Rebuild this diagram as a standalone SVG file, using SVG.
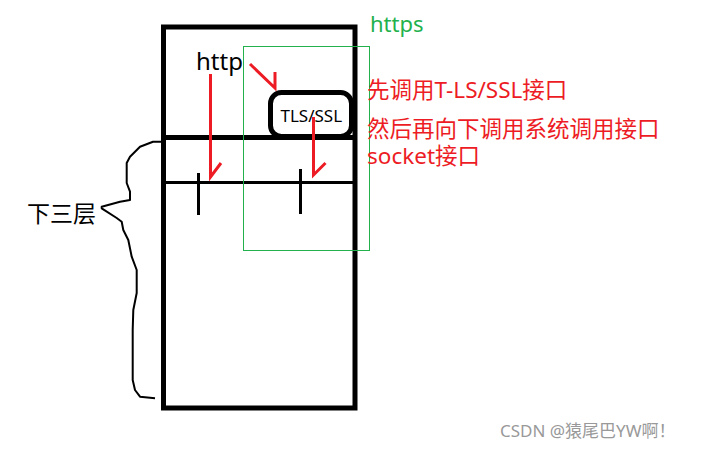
<svg xmlns="http://www.w3.org/2000/svg" width="706" height="450" viewBox="0 0 706 450">
<style>
.blk{fill:none;stroke:#000;stroke-linecap:butt}
.red{fill:none;stroke:#ed1c24;stroke-width:3;stroke-linecap:butt;stroke-linejoin:miter}
.t{font-family:"Noto Sans","Noto Sans CJK SC",sans-serif}
.rt{font-family:"Noto Sans","Noto Sans CJK SC",sans-serif;font-size:22.5px;fill:#ed1c24}
</style>
<rect width="706" height="450" fill="#fff"/>
<g id="stack">
<rect class="blk" x="163.5" y="27" width="191.5" height="381" stroke-width="5"/>
<line class="blk" x1="163.5" y1="137.5" x2="355" y2="137.5" stroke-width="5"/>
<line class="blk" x1="163.5" y1="182.5" x2="355" y2="182.5" stroke-width="3"/>
<line class="blk" x1="198.5" y1="173" x2="198.5" y2="215" stroke-width="3"/>
<line class="blk" x1="300.5" y1="169" x2="300.5" y2="214" stroke-width="3"/>
</g>
<g id="https-box">
<rect x="243.5" y="46.5" width="126" height="204" fill="none" stroke="#22b14c" stroke-width="1"/>
<text class="t" x="370" y="31.5" font-size="22" fill="#22b14c">https</text>
</g>
<g id="http">
<text class="t" x="196" y="70" font-size="24" fill="#000">http</text>
</g>
<g id="tls">
<rect class="blk" x="270.5" y="92.5" width="81" height="44" rx="11" stroke-width="5"/>
<text class="t" x="311.3" y="122.3" font-size="17" text-anchor="middle" fill="#000">TLS/SSL</text>
</g>
<g id="lower3">
<path class="blk" stroke-width="2" stroke-linejoin="round" d="M165,141.7 L153,141.7 L140,146.7 L130,156.7 L126.7,163 L126.7,183 L130,191.7 L130,200 L120,201.7 L101.7,206.7 L101.7,208.3 L116.7,218 L121.7,221.7 L123.3,230 L128.3,240 L131.7,256.7 L136.7,270 L136.7,293 L133.3,310 L132.7,330 L132.7,380 L135,390 L140,396.7 L155,398.3"/>
<text class="t" x="27" y="222" font-size="23" fill="#000">下三层</text>
</g>
<g id="notes">
<text class="rt" x="367" y="97.5">先调用T-LS/SSL接口</text>
<text class="rt" x="367" y="136.5">然后再向下调用系统调用接口</text>
<text class="rt" x="367" y="164">socket接口</text>
</g>
<g id="connectors">
<path class="red" d="M210.5,74 L210.5,177 L221,163"/>
<path class="red" d="M313.5,117 L313.5,175 L325.5,163"/>
<path class="red" d="M250,64 L275,88 L275,72"/>
</g>
<text class="t" x="500" y="437" font-size="17" fill="#999">CSDN @猿尾巴YW啊！</text>
</svg>
